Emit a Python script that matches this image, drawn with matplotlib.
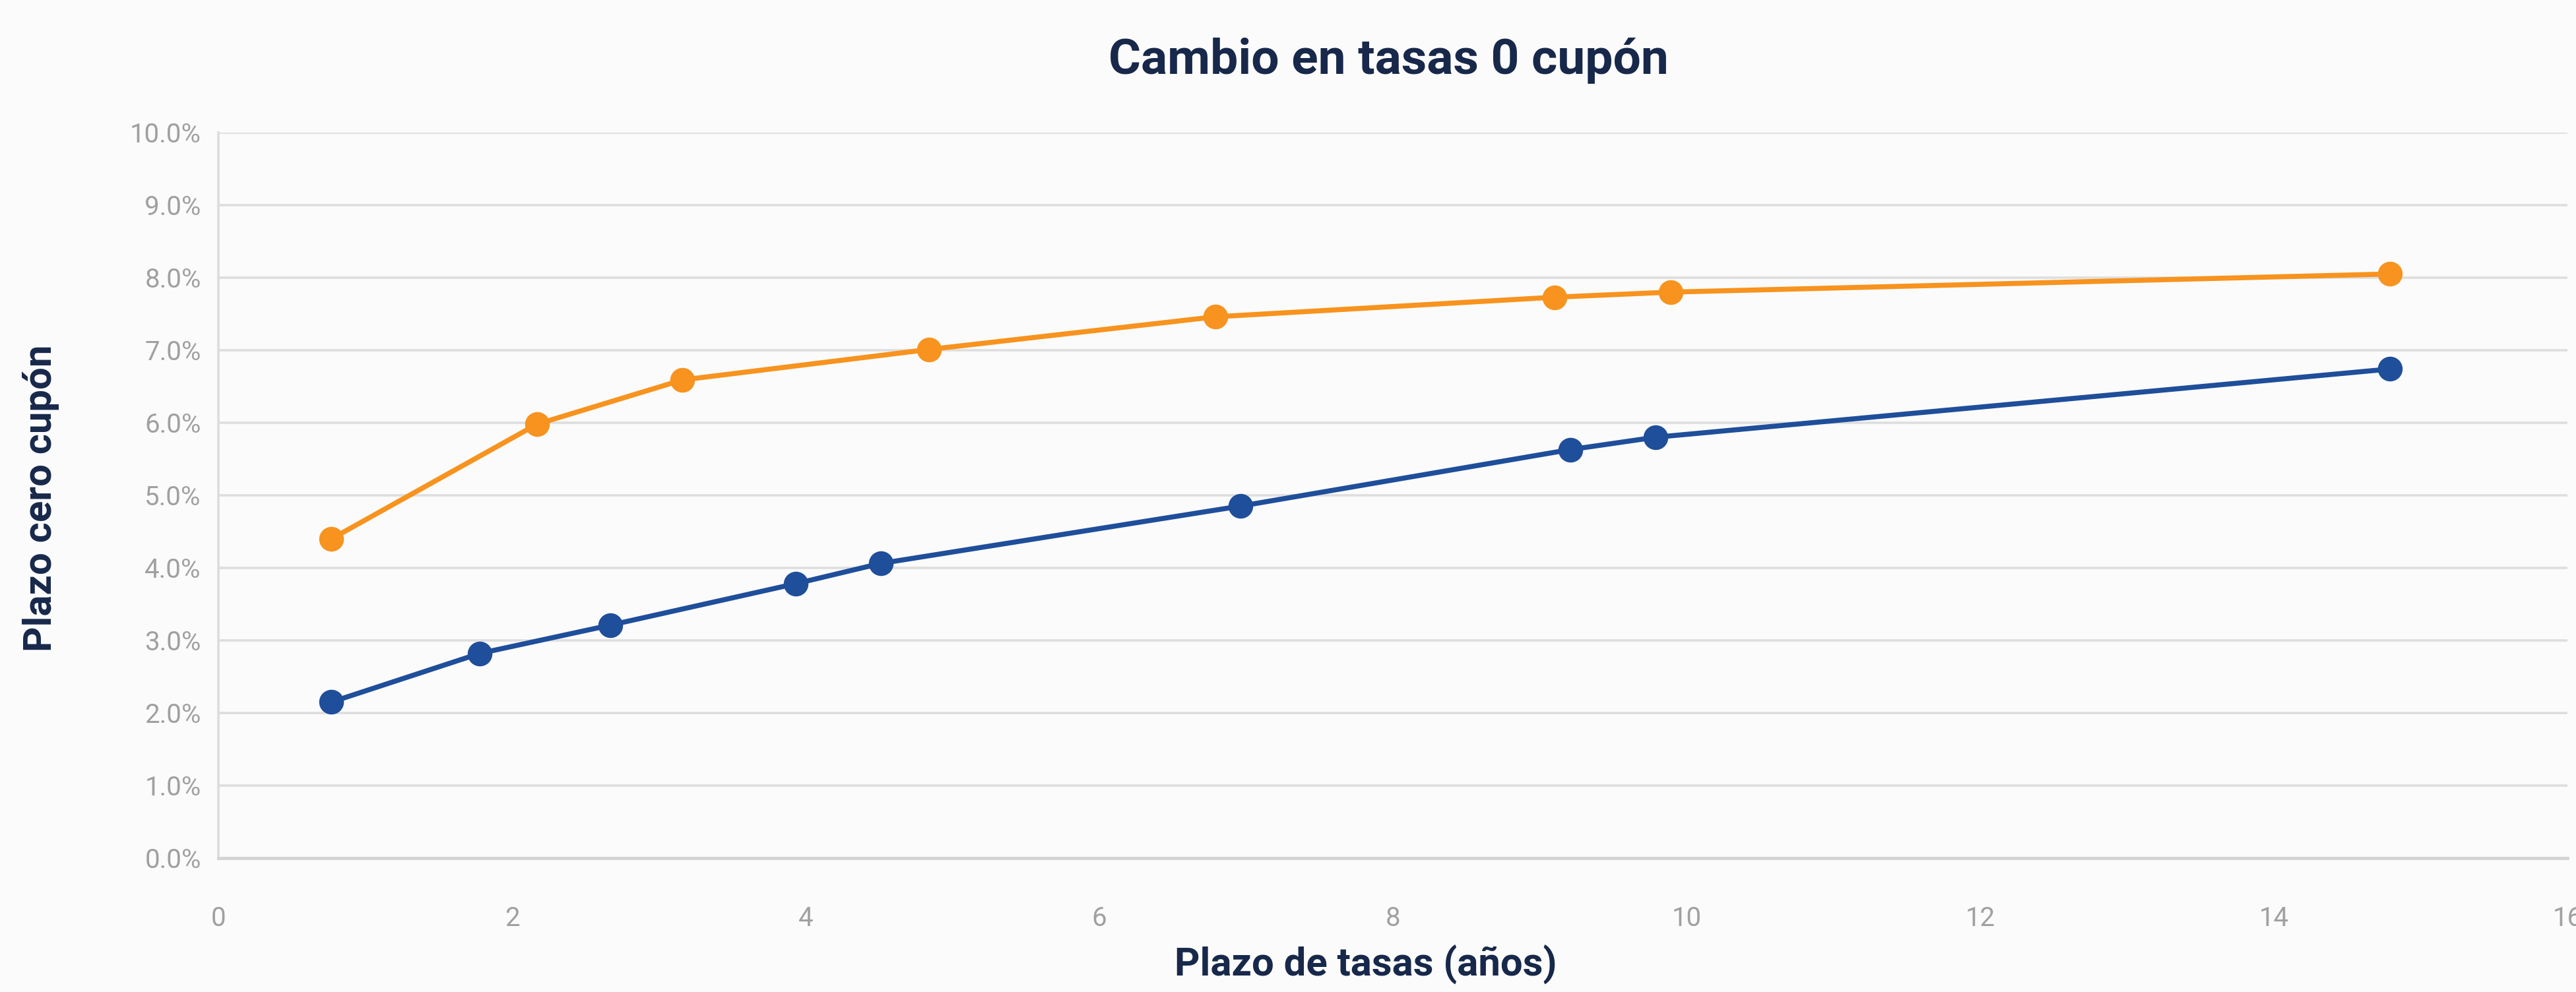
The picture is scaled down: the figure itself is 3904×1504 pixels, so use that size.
import matplotlib
matplotlib.use("Agg")
import matplotlib.pyplot as plt
from matplotlib.ticker import FuncFormatter

# Curva cero cupon: plazo (anios) vs tasa (%)
x_orange = [0.77, 2.17, 3.16, 4.84, 6.79, 9.10, 9.89, 14.79]
y_orange = [4.40, 5.98, 6.59, 7.01, 7.46, 7.73, 7.80, 8.05]

x_blue = [0.77, 1.78, 2.67, 3.93, 4.51, 6.96, 9.21, 9.79, 14.79]
y_blue = [2.15, 2.82, 3.21, 3.78, 4.06, 4.85, 5.63, 5.80, 6.74]

x_ticks = [0, 2, 4, 6, 8, 10, 12, 14, 16]
y_ticks = [0, 1, 2, 3, 4, 5, 6, 7, 8, 9, 10]

NAVY = '#17284a'
ORANGE = '#f7931e'
BLUE = '#1f4e9a'
BG = '#fbfbfb'

plt.rcParams['font.family'] = ['Roboto', 'DejaVu Sans']

fig = plt.figure(figsize=(39.05, 15.04), dpi=100, facecolor=BG)
ax = fig.add_axes([0.0848, 0.1351, 0.9116, 0.7313])
ax.set_facecolor(BG)

ax.plot(x_orange, y_orange, color=ORANGE, lw=5.5, marker='o', ms=26, zorder=3)
ax.plot(x_blue, y_blue, color=BLUE, lw=5.5, marker='o', ms=26, zorder=3)

ax.set_xlim(0, 16)
ax.set_ylim(0, 10)
ax.set_xticks(x_ticks)
ax.set_yticks(y_ticks)
ax.yaxis.set_major_formatter(FuncFormatter(lambda v, p: '%.1f%%' % v))

ax.grid(axis='y', color='#dedede', lw=2.6)
ax.set_axisbelow(True)
for s in ['top', 'right']:
    ax.spines[s].set_visible(False)
ax.spines['left'].set_color('#dcdcdc')
ax.spines['left'].set_linewidth(2.6)
ax.spines['bottom'].set_color('#d4d4d4')
ax.spines['bottom'].set_linewidth(3.5)

ax.tick_params(axis='both', length=0, labelsize=29, labelcolor='#a0a0a0')
ax.tick_params(axis='y', pad=19)
ax.tick_params(axis='x', pad=52)

# axis titles placed where the reference has them
fig.text(0.530, 0.027, 'Plazo de tasas (años)', ha='center', va='center',
         fontsize=43, fontweight='bold', color=NAVY)
fig.text(0.016, 0.498, 'Plazo cero cupón', ha='center', va='center', rotation=90,
         fontsize=43, fontweight='bold', color=NAVY)

fig.text(0.539, 0.939, 'Cambio en tasas 0 cupón', ha='center', va='center',
         fontsize=54, fontweight='bold', color=NAVY)

fig.savefig('out.png', dpi=100, facecolor=BG)
